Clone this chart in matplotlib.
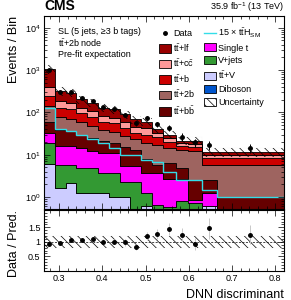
import numpy as np
import matplotlib
matplotlib.use('Agg')
import matplotlib.pyplot as plt
from matplotlib.patches import Patch
from matplotlib.lines import Line2D
from matplotlib.ticker import FixedLocator, FixedFormatter, NullFormatter, LogLocator, MultipleLocator

plt.rcParams['font.family'] = ['Liberation Sans', 'DejaVu Sans']
plt.rcParams['mathtext.fontset'] = 'custom'
plt.rcParams['mathtext.rm'] = 'Liberation Sans'
plt.rcParams['mathtext.it'] = 'Liberation Sans:italic'
plt.rcParams['mathtext.bf'] = 'Liberation Sans:bold'
plt.rcParams['hatch.linewidth'] = 0.5
plt.rcParams['hatch.color'] = 'black'

# bin edges of the DNN discriminant
edges = [0.265, 0.29, 0.315, 0.34, 0.365, 0.39, 0.415, 0.44, 0.465,
         0.49, 0.515, 0.54, 0.57, 0.597, 0.63, 0.664, 0.82]

# expected yields per process (bottom of stack first)
diboson = [0.05, 0.02, 0.02, 0.02, 0.02, 0.02, 0.02, 0.02, 0.02, 0.02, 0.02, 0.02, 0.02, 0.02, 0.02, 0.02]
ttv     = [6.1, 1.6, 2.1, 1.2, 1.2, 1.2, 0.97, 0.97, 0.5, 0.6, 0.5, 0.4, 0.4, 0.3, 0.6, 0.3]
vjets   = [12.9, 4.2, 3.7, 3.6, 3.6, 2.5, 2.7, 1.3, 1.8, 0.6, 0.14, 0.15, 0.37, 0.4, 0.0, 0.0]
singlet = [14.0, 10.5, 10.5, 9.7, 7.2, 7.3, 7.3, 3.0, 3.0, 2.5, 3.06, 2.05, 1.83, 0.15, 0.6, 0.05]
ttbb    = [27.0, 21.7, 19.7, 15.5, 13.0, 10.0, 8.0, 9.7, 7.7, 4.3, 2.1, 3.7, 2.2, 1.65, 1.3, 0.65]
tt2b    = [81.0, 39.0, 34.0, 28.0, 23.0, 17.0, 15.0, 12.0, 10.0, 11.0, 11.2, 8.1, 8.2, 9.5, 3.3, 4.8]
ttb     = [104.0, 53.0, 50.0, 37.0, 30.0, 22.0, 21.0, 15.0, 10.0, 11.0, 9.0, 5.6, 3.0, 3.0, 2.6, 2.6]
ttcc    = [145.0, 56.0, 50.0, 35.0, 30.0, 22.0, 20.0, 16.0, 13.0, 12.0, 7.0, 5.0, 3.0, 3.0, 1.4, 1.4]
ttlf    = [660.0, 134.0, 120.0, 75.0, 62.0, 48.0, 43.0, 32.0, 22.0, 18.0, 8.0, 5.0, 2.6, 3.0, 1.8, 1.8]

# 15 x ttH signal
tth15 = [125.0, 39.5, 36.0, 30.0, 23.6, 19.0, 14.4, 10.0, 10.0, 7.5, 6.9, 4.0, 2.6, 2.6, 1.5, 1.0]

# data / prediction ratio
ratio = [0.93, 0.95, 1.05, 1.07, 1.09, 1.01, 1.01, 0.98, 0.82, 1.20, 1.28, 1.44, 1.24, 0.93, 1.47, 1.25]
# relative uncertainty of the prediction
unc = [0.22, 0.22, 0.22, 0.22, 0.22, 0.22, 0.22, 0.22, 0.22, 0.22, 0.22, 0.22, 0.22, 0.22, 0.22, 0.22]

lf_lab = r'$\mathrm{t\bar{t}}$+lf'
cc_lab = r'$\mathrm{t\bar{t}}$+c$\mathrm{\bar{c}}$'
b_lab = r'$\mathrm{t\bar{t}}$+b'
b2_lab = r'$\mathrm{t\bar{t}}$+2b'
bb_lab = r'$\mathrm{t\bar{t}}$+b$\mathrm{\bar{b}}$'
v_lab = r'$\mathrm{t\bar{t}}$+V'

procs = [
    ('Diboson', diboson, '#0055cc'),
    (v_lab, ttv, '#ccccff'),
    ('V+jets', vjets, '#339933'),
    ('Single t', singlet, '#ff00ff'),
    (bb_lab, ttbb, '#660000'),
    (b2_lab, tt2b, '#9e6460'),
    (b_lab, ttb, '#cc0000'),
    (cc_lab, ttcc, '#ff9999'),
    (lf_lab, ttlf, '#990000'),
]

edges = np.array(edges)
centers = 0.5 * (edges[1:] + edges[:-1])

fig = plt.figure(figsize=(2.91, 3.0), dpi=100)
ax = fig.add_axes([0.151, 0.303, 0.825, 0.644])
rax = fig.add_axes([0.151, 0.097, 0.825, 0.203])

base = np.full(len(centers), 1e-3)
handles = {}
for name, vals, col in procs:
    top = base + np.array(vals)
    ax.stairs(top, edges, baseline=base, fill=True, facecolor=col,
              edgecolor='black', linewidth=0.6)
    handles[name] = Patch(facecolor=col, edgecolor='black', linewidth=0.6)
    base = top
total = base

unc = np.array(unc)
ax.fill_between(edges, np.append(total * (1 - unc), total[-1] * (1 - unc[-1])),
                np.append(total * (1 + unc), total[-1] * (1 + unc[-1])),
                step='post', facecolor='none', edgecolor='black',
                hatch='\\\\\\\\', linewidth=0.01)

ax.stairs(tth15, edges, baseline=None, color='#33dde8', linewidth=1.0)

data = total * np.array(ratio)
derr = np.sqrt(data)
ax.errorbar(centers, data, yerr=derr, fmt='o', color='black', ms=2.5,
            elinewidth=0.7, capsize=0)

ax.set_yscale('log')
ax.set_xlim(edges[0], edges[-1])
ax.set_ylim(0.52, 1.9e4)
ax.set_ylabel('Events / Bin', fontsize=9, loc='top')
ax.yaxis.set_label_coords(-0.1, 1.0)
ax.xaxis.set_major_locator(MultipleLocator(0.1))
ax.xaxis.set_minor_locator(MultipleLocator(0.02))
ax.xaxis.set_major_formatter(NullFormatter())
ax.yaxis.set_major_locator(LogLocator(base=10, numticks=10))
ax.yaxis.set_minor_locator(LogLocator(base=10, subs=np.arange(2, 10), numticks=10))
ax.yaxis.set_minor_formatter(NullFormatter())

# ratio panel
rax.fill_between(edges, np.append(1 - unc, 1 - unc[-1]), np.append(1 + unc, 1 + unc[-1]),
                 step='post', facecolor='none', edgecolor='black',
                 hatch='\\\\\\\\', linewidth=0.01)
rax.axhline(1.0, color='black', linestyle='--', linewidth=0.5, dashes=(3, 2))
rerr = derr / total
rax.errorbar(centers, ratio, yerr=rerr, fmt='o', color='black', ms=2.5,
             ecolor='#c8c8c8', elinewidth=0.7, capsize=0)
rax.set_xlim(edges[0], edges[-1])
rax.set_ylim(0.0, 2.1)
rax.yaxis.set_major_locator(FixedLocator([0.5, 1.0, 1.5]))
rax.yaxis.set_major_formatter(FixedFormatter(['0.5', '1', '1.5']))
rax.yaxis.set_minor_locator(MultipleLocator(0.1))
rax.xaxis.set_major_locator(MultipleLocator(0.1))
rax.xaxis.set_minor_locator(MultipleLocator(0.02))
rax.set_ylabel('Data / Pred.', fontsize=9)
rax.yaxis.set_label_coords(-0.1, 0.45)
rax.set_xlabel('DNN discriminant', fontsize=9, loc='right', labelpad=4)

for a in (ax, rax):
    a.tick_params(which='both', direction='in', top=True, right=True, labelsize=6.5, pad=2.5)
    a.tick_params(which='major', length=4, width=0.5)
    a.tick_params(which='minor', length=2, width=0.5)
    for s in a.spines.values():
        s.set_linewidth(0.8)

# legend, filled column by column
hl = [Line2D([], [], marker='o', ls='none', color='black', ms=2.5)]
lab = ['Data']
for n in [lf_lab, cc_lab, b_lab, b2_lab, bb_lab]:
    hl.append(handles[n]); lab.append(n)
hl.append(Line2D([], [], color='#33dde8', lw=1.0))
lab.append(r'15 $\times$ $\mathrm{t\bar{t}H_{SM}}$')
for n in ['Single t', 'V+jets', v_lab, 'Diboson']:
    hl.append(handles[n]); lab.append(n)
hl.append(Patch(facecolor='white', edgecolor='black', hatch='\\\\\\\\', linewidth=0.6))
lab.append('Uncertainty')
fig.legend(hl, lab, ncol=2, loc='upper left', bbox_to_anchor=(0.546, 0.912),
           frameon=False, fontsize=6.5, handlelength=1.3, handleheight=1.0,
           columnspacing=1.0, handletextpad=0.25, labelspacing=0.42,
           borderpad=0, borderaxespad=0)

ax.text(0.06, 0.92, 'SL (5 jets, ≥3 b tags)', transform=ax.transAxes, fontsize=6.5, va='center')
ax.text(0.06, 0.86, r'$\mathrm{t\bar{t}}$+2b node', transform=ax.transAxes, fontsize=6.5, va='center')
ax.text(0.06, 0.80, 'Pre-fit expectation', transform=ax.transAxes, fontsize=6.5, va='center')
fig.text(0.151, 0.958, 'CMS', fontsize=10, fontweight='bold', va='bottom')
fig.text(0.976, 0.955, r'35.9 fb$^{-1}$ (13 TeV)', fontsize=6.5, ha='right', va='bottom')

fig.savefig('out.png', dpi=100)
